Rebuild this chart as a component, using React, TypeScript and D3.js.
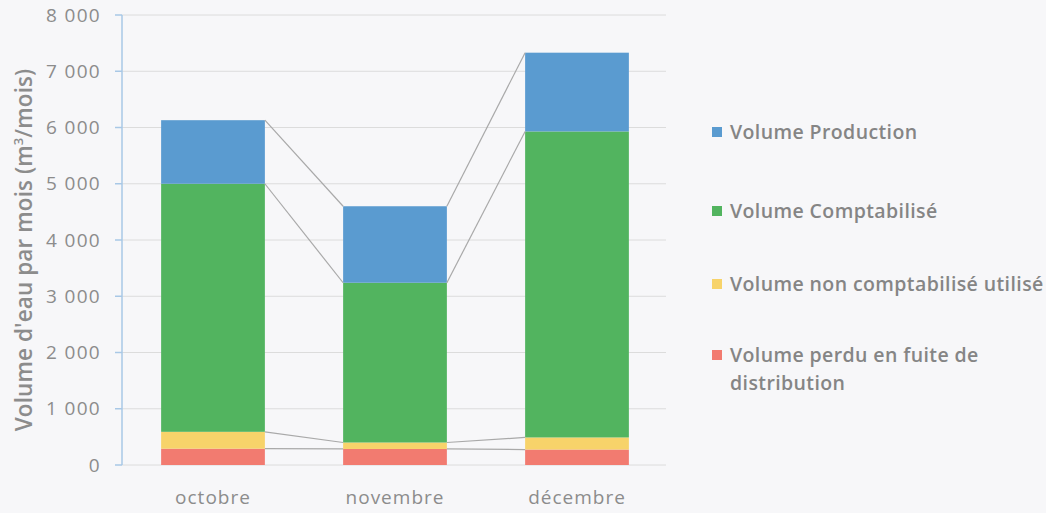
import * as d3 from "d3"
import React from "react"

// data
const months = ["octobre", "novembre", "décembre"]
const seriesNames = [
  "Volume perdu en fuite de distribution",
  "Volume non comptabilisé utilisé",
  "Volume Comptabilisé",
  "Volume Production",
]
const perdu = [290, 285, 275]
const nonCompta = [300, 115, 215]
const compta = [4410, 2840, 5440]
const production = [1130, 1360, 1400]
const yTicks = [0, 1000, 2000, 3000, 4000, 5000, 6000, 7000, 8000]
const colors = ["#f27b70", "#f7d36a", "#52b45f", "#5a9bd0"]

// legend order is top to bottom
const legendOrder = [3, 2, 1, 0]
const legendY = [132, 211, 284, 355]

const fmt = (v: number) => d3.format(",")(v).replace(/,/g, " ")

export default function App() {
  const width = 1046
  const height = 513
  const font = "'Open Sans', sans-serif"
  const textColor = "#8c8c8c"

  const x = d3.scaleBand().domain(months).range([122, 668]).paddingInner(0.43).paddingOuter(0.215)
  const y = d3.scaleLinear().domain([0, 8000]).range([465, 15])

  const table = months.map((m, i) => ({
    month: m,
    s0: perdu[i],
    s1: nonCompta[i],
    s2: compta[i],
    s3: production[i],
  }))
  const stacked = d3.stack<any>().keys(["s0", "s1", "s2", "s3"])(table)

  return (
    <div style={{ position: "fixed", left: 0, top: 0 }}>
      <svg width={width} height={height} style={{ display: "block", background: "#f7f7f9" }}>
        {/* gridlines */}
        {yTicks.map(t => (
          <line key={t} x1={122} x2={666} y1={y(t)} y2={y(t)} stroke="#dcdcdc" strokeWidth={1} />
        ))}

        {/* bars */}
        {stacked.map((layer, si) => (
          <g key={si} fill={colors[si]}>
            {layer.map((d, i) => (
              <rect key={i} x={x(months[i])} width={x.bandwidth()} y={y(d[1])} height={y(d[0]) - y(d[1])} />
            ))}
          </g>
        ))}

        {/* series lines between bars */}
        {stacked.map((layer, si) => (
          <g key={"l" + si} stroke="#a9a9a9" strokeWidth={1.2}>
            {layer.slice(0, -1).map((d, i) => (
              <line key={i}
                x1={x(months[i])! + x.bandwidth()} y1={y(d[1])}
                x2={x(months[i + 1])!} y2={y(layer[i + 1][1])} />
            ))}
          </g>
        ))}

        {/* y axis */}
        <line x1={122} x2={122} y1={y(8000)} y2={y(0)} stroke="#a9c8e6" strokeWidth={1.5} />
        {yTicks.map(t => (
          <g key={"t" + t}>
            <line x1={115} x2={122} y1={y(t)} y2={y(t)} stroke="#a9c8e6" strokeWidth={1.5} />
            <text x={101} y={y(t)} dy="0.35em" textAnchor="end" fontFamily={font} fontSize={19}
              letterSpacing={1.3} fill={textColor}>{fmt(t)}</text>
          </g>
        ))}

        {/* x labels */}
        {months.map(m => (
          <text key={m} x={x(m)! + x.bandwidth() / 2} y={504} textAnchor="middle" fontFamily={font}
            fontSize={19} letterSpacing={1} fill={textColor}>{m}</text>
        ))}

        {/* y title */}
        <text transform="translate(32,250) rotate(-90)" textAnchor="middle" fontFamily={font} fontSize={22.5}
          fontWeight={600} letterSpacing={0.1} fill={textColor}>
          Volume d'eau par mois (m<tspan fontSize={13} dy={-9}>3</tspan><tspan dy={9}>/mois)</tspan>
        </text>

        {/* legend */}
        {legendOrder.map((si, k) => {
          const ly = legendY[k]
          const name = seriesNames[si]
          const lines = si === 0 ? ["Volume perdu en fuite de", "distribution"] : [name]
          return (
            <g key={"lg" + si}>
              <rect x={712} y={ly - 5} width={10} height={10} fill={colors[si]} />
              <text x={730} y={ly} fontFamily={font} fontSize={19.5} fontWeight={600}
                letterSpacing={0.4} fill="#858585">
                {lines.map((ln, j) => (
                  <tspan key={j} x={730} dy={j === 0 ? "0.35em" : 28}>{ln}</tspan>
                ))}
              </text>
            </g>
          )
        })}
      </svg>
    </div>
  )
}
